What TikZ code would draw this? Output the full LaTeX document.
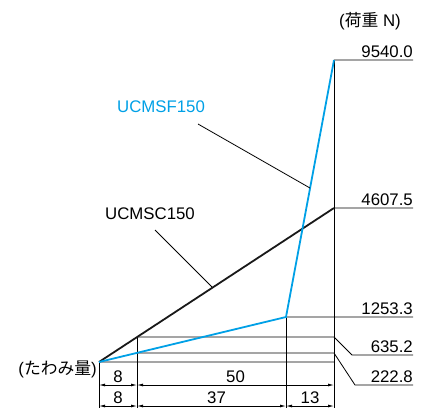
\documentclass[tikz,border=0pt]{standalone}
\usepackage{fontspec}
\setmainfont{Liberation Sans}
\newfontfamily\jpfont{Noto Sans CJK JP}
\usepackage{tikz}
\usetikzlibrary{arrows.meta}
\definecolor{ucblue}{RGB}{0,160,230}

\tikzset{
  lbl/.style={inner sep=0pt,font=\fontsize{16.8}{18}\selectfont},
  thin line/.style={draw=black,line width=0.8pt},
  dimline/.style={thin line,{Latex[length=6pt,width=3pt]}-{Latex[length=6pt,width=3pt]}}
}

\begin{document}
\begin{tikzpicture}[x=1pt,y=-1pt]
      \useasboundingbox (0,0) rectangle (436,408);

      % points of the curves
      \coordinate (O) at (99,362);
      \coordinate (knee) at (286,317);
      \coordinate (top) at (334,60);
      \coordinate (endC) at (334,208);
      \coordinate (cut8C) at (137,337);
      \coordinate (cut8F) at (137,353);
      \coordinate (base) at (334,362);

      % load values
      \node[lbl,anchor=base east] (v9540) at (413,57) {9540.0};
      \node[lbl,anchor=base east] (v4607) at (413,205) {4607.5};
      \node[lbl,anchor=base east] (v1253) at (413,314) {1253.3};
      \node[lbl,anchor=base east] (v635) at (413,352) {635.2};
      \node[lbl,anchor=base east] (v222) at (413,382) {222.8};
      \node[lbl] (unitN) at (370,21) {(\jpfont 荷重\normalfont\ N)};
      \node[lbl,anchor=east] (unitD) at (97,369) {(\jpfont たわみ量\normalfont)};

      \path[thin line]
      (top) -- (v9540.south east |- top)
      (endC) -- (v4607.south east |- endC)
      (knee) -- (v1253.south east |- knee)
      (cut8C) -- (334,337) -- (352,355) -- (v635.south east |- 0,355)
      (cut8F) -- (334,353) -- (355,385) -- (v222.south east |- 0,385)
      (O) -- (base);

      % extension lines
      \path[thin line]
      (top) -- (334,408)
      (knee) -- (286,408)
      (cut8C) -- (137,408)
      (O) -- (99,408);

      % curves
      \draw[line width=1.8pt,black!90] (O) -- (endC);
      \draw[line width=1.8pt,ucblue] (O) -- (knee) -- (top);

      % labels of the curves
      \node[lbl,text=ucblue] (nameF) at (161,107) {UCMSF150};
      \node[lbl] (nameC) at (150,214) {UCMSC150};
      \coordinate (onF) at (310,188);
      \coordinate (onC) at (212,287);
      \draw[thin line] (198,124) -- (onF);
      \draw[thin line] (155,230) -- (onC);

      % dimensions
      \draw[dimline] (99,385) -- node[lbl,above=2pt] (d8a) {8} (137,385);
      \draw[dimline] (137,385) -- node[lbl,above=2pt] (d50) {50} (334,385);
      \draw[dimline] (99,406) -- node[lbl,above=2pt] (d8b) {8} (137,406);
      \draw[dimline] (137,406) -- node[lbl,above=2pt,xshift=5pt] (d37) {37} (286,406);
      \draw[dimline] (286,406) -- node[lbl,above=2pt] (d13) {13} (334,406);
    \end{tikzpicture}
\end{document}
